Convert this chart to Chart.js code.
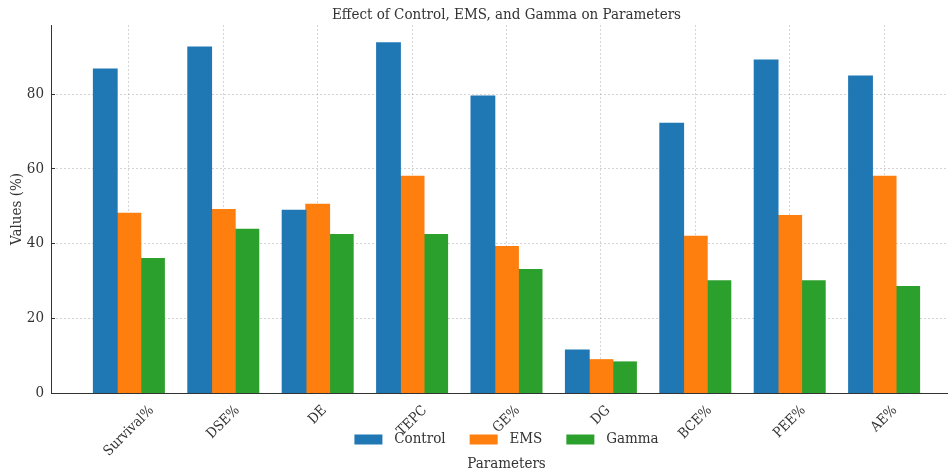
<!DOCTYPE html>
<html>
<head>
<meta charset="utf-8">
<script src="https://cdn.jsdelivr.net/npm/chart.js@4"></script>
<style>
    html, body { margin: 0; padding: 0; background: #fff; overflow: hidden; }
    #wrap { width: 962px; height: 472px; position: relative; }
</style>
</head>
<body>
<div id="wrap"><canvas id="chart"></canvas></div>
<script>
const categories = ['Survival%', 'DSE%', 'DE', 'TEPC', 'GE%', 'DG', 'BCE%', 'PEE%', 'AE%'];
const controlValues = [86.7, 92.6, 48.9, 93.7, 79.5, 11.5, 72.2, 89.1, 84.8];
const emsValues = [48.1, 49.1, 50.5, 58.0, 39.2, 8.9, 41.9, 47.5, 58.0];
const gammaValues = [36.0, 43.8, 42.4, 42.4, 33.0, 8.3, 30.0, 30.0, 28.5];
const yTicks = [0, 20, 40, 60, 80];

const fontFamily = '"DejaVu Serif Condensed", "DejaVu Serif", serif';
const textColor = '#333';
const gridColor = 'rgba(160,160,160,0.45)';

function toPoints(values) {
    return values.map((v, i) => ({ x: i, y: v }));
}

// matplotlib style rotated tick labels, centred on the tick
const tickLabels = {
    id: 'tickLabels',
    afterDraw(chart) {
        const xs = chart.scales.x;
        const ctx = chart.ctx;
        ctx.save();
        ctx.font = '14px ' + fontFamily;
        ctx.fillStyle = textColor;
        ctx.textAlign = 'center';
        ctx.textBaseline = 'middle';
        categories.forEach((c, i) => {
            const w = ctx.measureText(c).width;
            const half = (w + 12) * Math.SQRT1_2 / 2;
            const x = xs.getPixelForValue(i);
            const y = chart.chartArea.bottom + 11 + half;
            ctx.save();
            ctx.translate(x, y);
            ctx.rotate(-Math.PI / 4);
            ctx.fillText(c, 0, 0);
            ctx.restore();
        });
        ctx.restore();
    }
};

new Chart(document.getElementById('chart'), {
    type: 'bar',
    data: {
        datasets: [
            { label: 'Control', data: toPoints(controlValues), backgroundColor: '#1f77b4' },
            { label: 'EMS', data: toPoints(emsValues), backgroundColor: '#ff7f0e' },
            { label: 'Gamma', data: toPoints(gammaValues), backgroundColor: '#2ca02c' }
        ]
    },
    options: {
        responsive: true,
        maintainAspectRatio: false,
        animation: false,
        categoryPercentage: 0.75,
        barPercentage: 1.0,
        borderWidth: 0,
        inflateAmount: 0.6,
        layout: { padding: 0 },
        plugins: {
            title: {
                display: true,
                text: 'Effect of Control, EMS, and Gamma on Parameters',
                color: textColor,
                fullSize: false,
                font: { family: fontFamily, size: 15, weight: 'normal', lineHeight: 1.2 },
                padding: { top: 6, bottom: 1 }
            },
            subtitle: {
                display: true,
                position: 'bottom',
                text: 'Parameters',
                color: textColor,
                fullSize: false,
                font: { family: fontFamily, size: 15, weight: 'normal', lineHeight: 1.0 },
                padding: { top: 0, bottom: 0 }
            },
            legend: {
                position: 'bottom',
                fullSize: false,
                labels: {
                    color: textColor,
                    font: { family: fontFamily, size: 15 },
                    boxWidth: 28,
                    boxHeight: 10,
                    padding: 24,
                    generateLabels: (chart) => Chart.defaults.plugins.legend.labels.generateLabels(chart)
                        .map(item => ({ ...item, text: ' ' + item.text }))
                }
            },
            tooltip: { enabled: false }
        },
        scales: {
            x: {
                type: 'linear',
                min: -0.825,
                max: 8.825,
                offset: false,
                z: 1,
                afterBuildTicks: (axis) => {
                    axis.ticks = categories.map((c, i) => ({ value: i }));
                },
                afterFit: (axis) => { axis.height = 15; },
                ticks: { display: false, stepSize: 1 },
                grid: {
                    offset: false,
                    color: gridColor,
                    drawTicks: true,
                    tickLength: -4,
                    tickColor: textColor,
                    tickWidth: 1
                },
                border: { display: true, color: textColor, width: 1, dash: [2, 2] }
            },
            y: {
                min: 0,
                max: 98.5,
                z: 1,
                afterBuildTicks: (axis) => {
                    axis.ticks = yTicks.map(v => ({ value: v }));
                },
                afterFit: (axis) => { axis.width = 51; },
                title: {
                    display: true,
                    text: 'Values (%)',
                    color: textColor,
                    font: { family: fontFamily, size: 15 },
                    padding: { top: 8, bottom: 0 }
                },
                ticks: {
                    color: textColor,
                    font: { family: fontFamily, size: 15 },
                    padding: 11
                },
                grid: {
                    color: gridColor,
                    drawTicks: true,
                    tickLength: -4,
                    tickColor: textColor,
                    tickWidth: 1
                },
                border: { display: true, color: textColor, width: 1, dash: [2, 2] }
            }
        }
    },
    plugins: [tickLabels]
});
</script>
</body>
</html>
